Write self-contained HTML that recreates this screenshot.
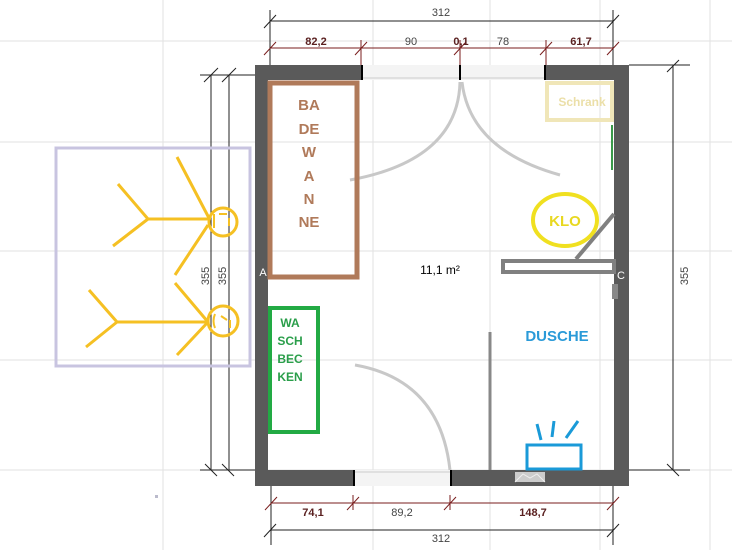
<!DOCTYPE html><html><head><style>body{margin:0;background:#fff}svg{display:block}text{font-family:"Liberation Sans",sans-serif}</style></head><body>
<svg width="732" height="550" xmlns="http://www.w3.org/2000/svg">
<g stroke="#e2e2e2" stroke-width="1">
<line x1="0" y1="41" x2="732" y2="41"/><line x1="0" y1="142" x2="732" y2="142"/><line x1="0" y1="251" x2="732" y2="251"/><line x1="0" y1="360" x2="732" y2="360"/><line x1="0" y1="470" x2="732" y2="470"/>
<line x1="163" y1="0" x2="163" y2="550"/><line x1="373" y1="0" x2="373" y2="550"/><line x1="490" y1="0" x2="490" y2="550"/><line x1="600" y1="0" x2="600" y2="550"/><line x1="710" y1="0" x2="710" y2="550"/>
</g>
<!-- dims -->
<g stroke="#222" stroke-width="1">
<line x1="270" y1="21" x2="613" y2="21"/><line x1="270" y1="10" x2="270" y2="65"/><line x1="613" y1="10" x2="613" y2="65"/>
<line x1="271" y1="530" x2="613" y2="530"/><line x1="271" y1="486" x2="271" y2="545"/><line x1="613" y1="486" x2="613" y2="545"/>
<line x1="211" y1="75" x2="211" y2="470"/><line x1="229" y1="75" x2="229" y2="470"/><line x1="200" y1="470" x2="255" y2="470"/><line x1="200" y1="75" x2="255" y2="75"/>
<line x1="673" y1="65" x2="673" y2="470"/><line x1="629" y1="470" x2="690" y2="470"/><line x1="629" y1="65" x2="690" y2="65"/>
<path d="M264,28l12,-13M607,28l12,-13M264,537l12,-13M607,537l12,-13M204,82l14,-14M222,82l14,-14M205,464l12,12M222,464l12,12M667,464l12,12M667,72l12,-12"/>
</g>
<g stroke="#7a1e1e" stroke-width="1">
<line x1="270" y1="48" x2="613" y2="48"/><line x1="271" y1="503" x2="613" y2="503"/>
<path d="M361,40v25M460,40v25M546,40v25M353,495v15M450,495v15M264,55l12,-13M355,55l12,-13M454,55l12,-13M540,55l12,-13M607,55l12,-13M265,510l12,-13M347,510l12,-13M444,510l12,-13M607,510l12,-13"/>
</g>
<g font-size="11" fill="#444" text-anchor="middle">
<text x="441" y="16">312</text><text x="441" y="542">312</text>
<text x="411" y="45">90</text><text x="503" y="45">78</text><text x="402" y="516">89,2</text>
<text x="316" y="45" fill="#5a2020" font-weight="bold">82,2</text><text x="461" y="45" fill="#5a2020" font-weight="bold">0,1</text><text x="581" y="45" fill="#5a2020" font-weight="bold">61,7</text>
<text x="313" y="516" fill="#5a2020" font-weight="bold">74,1</text><text x="533" y="516" fill="#5a2020" font-weight="bold">148,7</text>
<text transform="translate(209,276) rotate(-90)">355</text><text transform="translate(226,276) rotate(-90)">355</text><text transform="translate(688,276) rotate(-90)">355</text>
</g>
<!-- walls -->
<path d="M255,65H629V486H255Z M268,80V470H614V80Z" fill="#5a5a5a" fill-rule="evenodd"/>
<rect x="362" y="65" width="183" height="15" fill="#f4f4f4"/><line x1="362" y1="78" x2="545" y2="78" stroke="#ccc"/>
<rect x="354" y="470" width="97" height="16" fill="#f4f4f4"/><line x1="354" y1="472" x2="451" y2="472" stroke="#ccc"/>
<g stroke="#000" stroke-width="2"><path d="M362,65v15M460,65v15M545,65v15M354,470v16M451,470v16"/></g>
<text x="263" y="276" font-size="11" fill="#fff" text-anchor="middle">A</text><text x="621" y="279" font-size="11" fill="#fff" text-anchor="middle">C</text>
<!-- doors -->
<g stroke="#c8c8c8" stroke-width="3" fill="none">
<path d="M460,82 Q458,160 350,180"/><path d="M462,82 Q470,150 560,175"/><path d="M450,470 Q440,380 355,365"/>
</g>
<!-- bathtub -->
<rect x="270" y="83" width="87" height="194" fill="none" stroke="#b07a5a" stroke-width="5"/>
<g fill="#b07a5a" font-size="15" font-weight="bold" text-anchor="middle">
<text x="309" y="110">BA</text><text x="309" y="134">DE</text><text x="309" y="157">W</text><text x="309" y="181">A</text><text x="309" y="204">N</text><text x="309" y="227">NE</text></g>
<rect x="547" y="83" width="65" height="37" fill="none" stroke="#f0e6b8" stroke-width="4"/>
<text x="582" y="106" font-size="12" font-weight="bold" fill="#ebdfa8" text-anchor="middle">Schrank</text>
<line x1="612" y1="125" x2="612" y2="170" stroke="#3a9a4a" stroke-width="2"/>
<!-- washbasin -->
<rect x="270" y="308" width="48" height="124" fill="none" stroke="#22aa44" stroke-width="4"/>
<g fill="#2a9e4a" font-size="12" font-weight="bold" text-anchor="middle">
<text x="290" y="327">WA</text><text x="290" y="345">SCH</text><text x="290" y="363">BEC</text><text x="290" y="381">KEN</text></g>
<!-- people -->
<rect x="56" y="148" width="194" height="218" fill="none" stroke="#c8c4e0" stroke-width="3"/>
<g stroke="#f5c023" stroke-width="3" fill="none">
<circle cx="223" cy="222" r="14"/><circle cx="223" cy="321" r="15"/>
<path d="M210,220L177,157M208,219H148M148,219L118,184M148,219L113,246M208,225L175,275"/>
<path d="M208,322H117M117,322L89,290M117,322L86,347M208,322L175,283M208,322L177,355"/>
<path d="M214,214v14M219,214h8M229,218v8" stroke-width="2"/><path d="M215,314q-3,7 0,14M221,316l6,4M230,320v8" stroke-width="2"/>
</g>
<!-- klo -->
<ellipse cx="565" cy="220" rx="32" ry="26" fill="none" stroke="#f0e020" stroke-width="4"/>
<text x="565" y="226" font-size="15" font-weight="bold" fill="#e8d820" text-anchor="middle">KLO</text>
<rect x="503" y="261" width="111" height="11" fill="#fff" stroke="#808080" stroke-width="4"/>
<line x1="576" y1="259" x2="614" y2="214" stroke="#808080" stroke-width="4"/>
<rect x="612" y="284" width="6" height="15" fill="#888"/>
<text x="440" y="274" font-size="12" fill="#000" text-anchor="middle">11,1 m²</text>
<!-- shower -->
<line x1="490" y1="332" x2="490" y2="470" stroke="#888" stroke-width="3"/>
<text x="557" y="341" font-size="15" font-weight="bold" fill="#2a9ad8" text-anchor="middle">DUSCHE</text>
<rect x="515" y="472" width="30" height="10" fill="#ccc"/><path d="M515,482l8,-8l7,4l7,-4l8,8" stroke="#eee" fill="none"/>
<rect x="527" y="445" width="54" height="24" fill="#fff" stroke="#1a9ad8" stroke-width="3"/>
<g stroke="#1a9ad8" stroke-width="3"><path d="M537,424l4,16M554,421l-2,16M578,421l-12,17"/></g>
<rect x="155" y="495" width="3" height="3" fill="#bbc"/>
</svg></body></html>
